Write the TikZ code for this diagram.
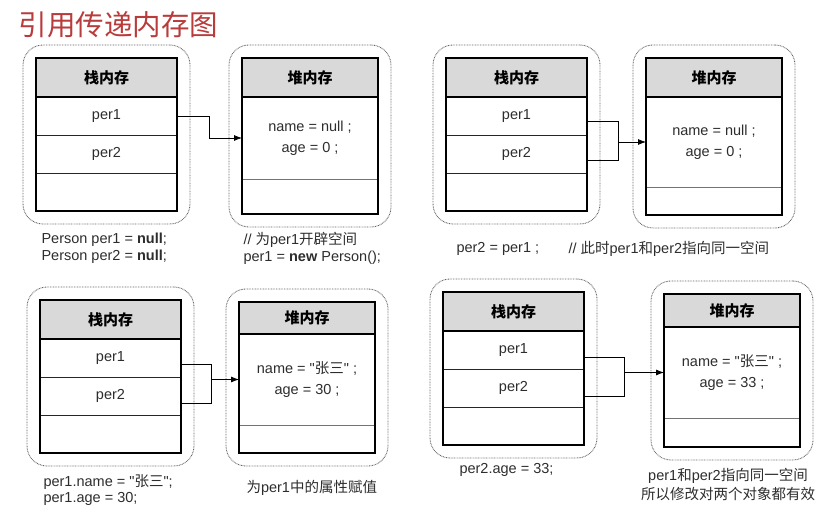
\documentclass[tikz,border=0pt]{standalone}
\usepackage{fontspec}
\setmainfont{Liberation Sans}[Ligatures=TeXOff]
\newfontfamily\cjk{Noto Sans CJK SC}
\newcommand{\zh}[1]{{\cjk #1}}
\usetikzlibrary{positioning,fit,arrows.meta}
\definecolor{titlered}{RGB}{185,60,60}
\definecolor{hdrgray}{RGB}{217,217,217}
\definecolor{codegray}{RGB}{45,45,45}

\begin{document}
\begin{tikzpicture}[x=1pt, y=-1pt,
	font=\fontsize{14.5}{17}\selectfont, text=codegray,
	stackhd/.style={fill=hdrgray, anchor=north west, minimum width=141pt, minimum height=39pt, inner sep=0pt, outer sep=0pt, font=\cjk\bfseries\fontsize{15}{15}\selectfont, text=black},
	heaphd/.style={stackhd, minimum width=136pt},
	row/.style={draw=black!85, line width=0.8pt, minimum width=141pt, minimum height=38pt, inner sep=0pt, outer sep=0pt},
	heapbody/.style={draw=black!55, line width=0.8pt, minimum width=136pt, inner sep=0pt, outer sep=0pt, align=center, font=\fontsize{14.5}{21}\selectfont},
	heapend/.style={minimum width=136pt, inner sep=0pt, outer sep=0pt},
	frame/.style={line width=2.6pt},
	area/.style={draw=black!60, dash pattern=on 0.8pt off 0.8pt, line width=0.9pt, rounded corners=20pt, inner sep=13pt},
	link/.style={line width=0.8pt},
	tip/.style={-{Latex[length=8pt,width=6pt]}},
	code/.style={align=left, anchor=west},
	]
	\useasboundingbox (0,0) rectangle (836,510);

	\node[anchor=west, text=titlered, font=\cjk\fontsize{28.5}{28.5}\selectfont] (ttl) at (15,25) {引用传递内存图};

	% Person per1 = null
	\node[stackhd] (st1) at (36,58) {栈内存};
	\node[row, below=0pt of st1] (st1a) {per1};
	\node[row, below=0pt of st1a] (st1b) {per2};
	\node[row, below=0pt of st1b] (st1c) {};
	\draw[frame] (st1.north west) rectangle (st1c.south east) (st1.south west) -- (st1.south east);
	\node[area, fit=(st1)(st1c)] (ar1) {};

	\node[heaphd] (hp1) at (242,58) {堆内存};
	\node[heapbody, minimum height=82pt, below=0pt of hp1] (hp1b) {name = null ;\\age = 0 ;};
	\node[heapend, minimum height=35pt, below=0pt of hp1b] (hp1c) {};
	\draw[frame] (hp1.north west) rectangle (hp1c.south east) (hp1.south west) -- (hp1.south east);
	\node[area, fit=(hp1)(hp1c)] (ar1h) {};

	\draw[link, tip] (st1a.east) -- ++(32,0) |- (hp1b.west);
	\node[code] (c1) at (38,248) {Person per1 = \textbf{null};\\Person per2 = \textbf{null};};
	\node[code] (c1h) at (240,248) {// \zh{为}per1\zh{开辟空间}\\per1 = \textbf{new} Person();};

	% per2 = per1
	\node[stackhd] (st2) at (446,58) {栈内存};
	\node[row, below=0pt of st2] (st2a) {per1};
	\node[row, below=0pt of st2a] (st2b) {per2};
	\node[row, below=0pt of st2b] (st2c) {};
	\draw[frame] (st2.north west) rectangle (st2c.south east) (st2.south west) -- (st2.south east);
	\node[area, fit=(st2)(st2c)] (ar2) {};

	\node[heaphd] (hp2) at (646,58) {堆内存};
	\node[heapbody, minimum height=90pt, below=0pt of hp2] (hp2b) {name = null ;\\age = 0 ;};
	\node[heapend, minimum height=28pt, below=0pt of hp2b] (hp2c) {};
	\draw[frame] (hp2.north west) rectangle (hp2c.south east) (hp2.south west) -- (hp2.south east);
	\node[area, fit=(hp2)(hp2c)] (ar2h) {};

	\draw[link] ([yshift=-5pt]st2a.east) -- ++(31,0) coordinate (j2) |- ([yshift=-6pt]st2b.east);
	\draw[link, tip] (j2 |- hp2b.west) -- (hp2b.west);
	\node[code] (c2) at (453,249) {per2 = per1 ;};
	\node[code] (c2h) at (565,249) {// \zh{此时}per1\zh{和}per2\zh{指向同一空间}};

	% per1.name = "张三"
	\node[stackhd] (st3) at (40,300) {栈内存};
	\node[row, below=0pt of st3] (st3a) {per1};
	\node[row, below=0pt of st3a] (st3b) {per2};
	\node[row, below=0pt of st3b] (st3c) {};
	\draw[frame] (st3.north west) rectangle (st3c.south east) (st3.south west) -- (st3.south east);
	\node[area, fit=(st3)(st3c)] (ar3) {};

	\node[heaphd, minimum height=32pt] (hp3) at (239,302) {堆内存};
	\node[heapbody, minimum height=91pt, below=0pt of hp3] (hp3b) {name = "\zh{张三}" ;\\age = 30 ;};
	\node[heapend, minimum height=28pt, below=0pt of hp3b] (hp3c) {};
	\draw[frame] (hp3.north west) rectangle (hp3c.south east) (hp3.south west) -- (hp3.south east);
	\node[area, fit=(hp3)(hp3c)] (ar3h) {};

	\draw[link] ([yshift=-6pt]st3a.east) -- ++(30,0) coordinate (j3) |- ([yshift=-7pt]st3b.east);
	\draw[link, tip] (j3 |- hp3b.west) -- (hp3b.west);
	\node[code, font=\fontsize{14.5}{16}\selectfont] (c3) at (40,490) {per1.name = "\zh{张三}";\\per1.age = 30;};
	\node[code] (c3h) at (243,488) {\zh{为}per1\zh{中的属性赋值}};

	% per2.age = 33
	\node[stackhd] (st4) at (443,292) {栈内存};
	\node[row, below=0pt of st4] (st4a) {per1};
	\node[row, below=0pt of st4a] (st4b) {per2};
	\node[row, below=0pt of st4b] (st4c) {};
	\draw[frame] (st4.north west) rectangle (st4c.south east) (st4.south west) -- (st4.south east);
	\node[area, fit=(st4)(st4c)] (ar4) {};

	\node[heaphd, minimum height=33pt] (hp4) at (664,294) {堆内存};
	\node[heapbody, minimum height=91pt, below=0pt of hp4] (hp4b) {name = "\zh{张三}" ;\\age = 33 ;};
	\node[heapend, minimum height=29pt, below=0pt of hp4b] (hp4c) {};
	\draw[frame] (hp4.north west) rectangle (hp4c.south east) (hp4.south west) -- (hp4.south east);
	\node[area, fit=(hp4)(hp4c)] (ar4h) {};

	\draw[link] ([yshift=-7pt]st4a.east) -- ++(40,0) coordinate (j4) |- ([yshift=-8pt]st4b.east);
	\draw[link, tip] (j4 |- hp4b.west) -- (hp4b.west);
	\node[code] (c4) at (456,470) {per2.age = 33;};
	\node[align=center, font=\fontsize{14.5}{19}\selectfont] (c4h) at (728,484) {per1\zh{和}per2\zh{指向同一空间}\\\zh{所以修改对两个对象都有效}};
\end{tikzpicture}
\end{document}
